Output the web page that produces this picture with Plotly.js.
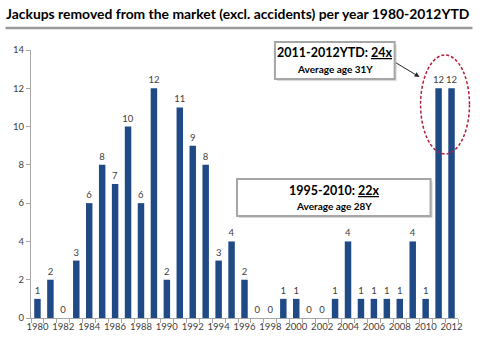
<!DOCTYPE html>
<html><head><meta charset="utf-8">
<script src="https://cdn.plot.ly/plotly-3.0.1.min.js"></script>
<style>html,body{margin:0;padding:0;background:#fff}#c{width:480px;height:353px}</style>
</head><body><div id="c"></div>
<script>
const years = [1980,1981,1982,1983,1984,1985,1986,1987,1988,1989,1990,1991,1992,1993,1994,1995,1996,1997,1998,1999,2000,2001,2002,2003,2004,2005,2006,2007,2008,2009,2010,2011,2012];
const removed = [1,2,0,3,6,8,7,10,6,12,2,11,9,8,3,4,2,0,0,1,1,0,0,1,4,1,1,1,1,4,1,12,12];
const tickYears = [1980,1982,1984,1986,1988,1990,1992,1994,1996,1998,2000,2002,2004,2006,2008,2010,2012];
const titleText = 'Jackups removed from the market (excl. accidents) per year 1980-2012YTD';

const W = 480, H = 353, L = 30.5, R = 458.5, T = 50, B = 318;
const px = x => (x - L) / (R - L);
const py = y => (B - y) / (B - T);

const font = 'Lato, "Open Sans", sans-serif';
const trace = {
  type: 'bar', x: years, y: removed,
  text: removed.map(String), textposition: 'outside', cliponaxis: false, constraintext: 'none',
  textfont: {family: font, size: 9.5, color: '#404040'},
  marker: {color: '#1F4A85'}, width: 0.5, hoverinfo: 'none'
};
const box = (x0,y0,x1,y1) => ({type:'rect', xref:'paper', yref:'paper', x0:px(x0), x1:px(x1), y0:py(y1), y1:py(y0), line:{color:'#A6A6A6', width:2}, fillcolor:'#fff', layer:'above'});
const shadow = (x0,y0,x1,y1) => ({type:'rect', xref:'paper', yref:'paper', x0:px(x0+2), x1:px(x1+2), y0:py(y1+2), y1:py(y0+2), line:{width:0}, fillcolor:'#D9D9D9', layer:'above'});
const note = (x, y, text, size) => ({xref:'paper', yref:'paper', x:px(x), y:py(y), xanchor:'center', yanchor:'middle', text, showarrow:false, font:{family:font, size, color:'#000'}});
const layout = {
  width: W, height: H, margin: {l: L, r: W - R, t: T, b: H - B},
  paper_bgcolor: '#fff', plot_bgcolor: '#fff', showlegend: false, bargap: 0.5,
  title: {text: '<b>' + titleText + '</b>', x: 6/W, xanchor: 'left', y: 1 - 14/H, yanchor: 'middle', font: {family: font, size: 13.9, color: '#000'}},
  xaxis: {range: [1979.5, 2012.5], tickvals: tickYears, ticktext: tickYears.map(String), ticks: '', showgrid: false, zeroline: false,
    showline: true, linecolor: '#A6A6A6', linewidth: 1, tickfont: {family: font, size: 9.5, color: '#404040'},
    minor: {tick0: 1979.5, dtick: 1, ticks: 'outside', ticklen: 4, tickcolor: '#A6A6A6', showgrid: false}},
  yaxis: {range: [0, 14], dtick: 2, ticks: 'outside', ticklen: 4, tickcolor: '#A6A6A6', showgrid: false, zeroline: false,
    showline: true, linecolor: '#A6A6A6', linewidth: 1, tickfont: {family: font, size: 9.5, color: '#404040'}},
  shapes: [
    {type:'line', xref:'paper', yref:'paper', x0:px(5), x1:px(473), y0:py(28), y1:py(28), line:{color:'#9A9A9A', width:2.5}},
    shadow(275,42,395,79), box(275,42,395,79),
    shadow(237,179,431,216), box(237,179,431,216),
    {type:'circle', xref:'paper', yref:'paper', x0:px(421), x1:px(470), y0:py(154), y1:py(55), line:{color:'#B41E3C', width:1.5, dash:'3px,2px'}}
  ],
  annotations: [
    note(335, 53, '<b>2011-2012YTD: <u>24x</u></b>', 12.5),
    note(335, 69, '<b>Average age 31Y</b>', 10),
    note(334, 190, '<b>1995-2010: <u>22x</u></b>', 12.5),
    note(334, 206, '<b>Average age 28Y</b>', 10),
    {xref:'paper', yref:'paper', x:px(420), y:py(77), text:'', showarrow:true, arrowhead:2, arrowsize:1, arrowwidth:1, arrowcolor:'#262626', ax:-25, ay:-15}
  ]
};
Plotly.newPlot('c', [trace], layout, {staticPlot: true});
</script></body></html>
